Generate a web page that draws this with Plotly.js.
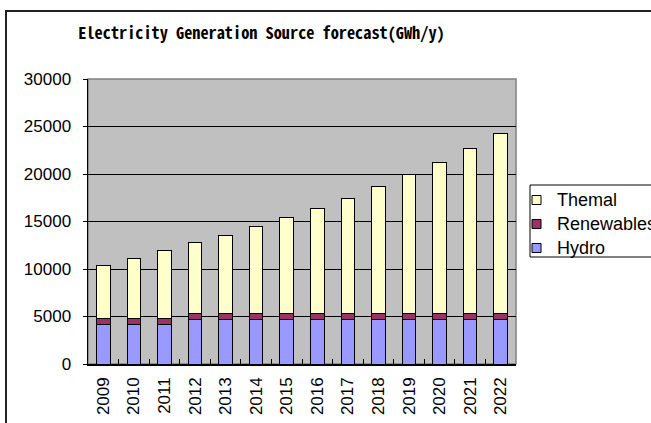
<!DOCTYPE html>
<html>
<head>
<meta charset="utf-8">
<script src="https://cdn.plot.ly/plotly-3.0.1.min.js"></script>
<style>
  html, body { margin: 0; padding: 0; background: #fff; overflow: hidden; }
  #chart { width: 651px; height: 423px; }
  #frame { position: absolute; left: 5px; top: 10px; width: 700px; height: 500px;
           border-left: 2px solid #222; border-top: 2px solid #222; pointer-events: none; }
</style>
</head>
<body>
<div id="chart"></div>
<div id="frame"></div>
<script>
const years = ["2009","2010","2011","2012","2013","2014","2015","2016","2017","2018","2019","2020","2021","2022"];
const hydro = [4200,4200,4200,4700,4700,4700,4700,4700,4700,4700,4700,4700,4700,4700];
const renewables = [550,550,550,650,650,650,650,650,650,650,650,650,650,650];
const thermal = [5600,6400,7150,7400,8200,9100,10050,11000,12100,13350,14550,15850,17300,18900];
const yTicks = [0,5000,10000,15000,20000,25000,30000];

const FONT = "Liberation Sans, Arial, sans-serif";
const line = {color: "#000", width: 1};
const traces = [
  {type: "bar", name: "Hydro", x: years, y: hydro, marker: {color: "#9999FF", line: line}},
  {type: "bar", name: "Renewables", x: years, y: renewables, marker: {color: "#993366", line: line}},
  {type: "bar", name: "Themal", x: years, y: thermal, marker: {color: "#FFFFCC", line: line}}
];

// plot area in pixels: x 88..516, y 79..364
const PL = 88, PW = 428, PB = 364, PH = 285;
const px = v => (v - PL) / PW;
const py = v => (PB - v) / PH;

const shapes = [
  {type: "rect", xref: "paper", yref: "paper", x0: 0, x1: 1, y0: 0, y1: 1,
   line: {color: "#808080", width: 1.5}, layer: "below"},
  {type: "rect", xref: "paper", yref: "paper", x0: px(530), x1: px(720), y0: py(257), y1: py(185),
   line: {color: "#000", width: 1}, fillcolor: "#fff"}
];
const annotations = [];
const legendRows = [200, 224, 248];
traces.slice().reverse().forEach((t, i) => {
  const cy = legendRows[i];
  shapes.push({type: "rect", xref: "paper", yref: "paper",
    x0: px(532), x1: px(541), y0: py(cy + 4.5), y1: py(cy - 4.5),
    line: {color: "#000", width: 1}, fillcolor: t.marker.color});
  annotations.push({xref: "paper", yref: "paper", x: px(555), y: py(cy),
    xanchor: "left", yanchor: "middle", showarrow: false, text: t.name,
    font: {family: FONT, size: 18, color: "#000"}});
});

const layout = {
  width: 651, height: 423,
  margin: {l: PL, r: 651 - PL - PW, t: 79, b: 423 - PB, pad: 0},
  paper_bgcolor: "#fff",
  plot_bgcolor: "#C0C0C0",
  barmode: "stack",
  bargap: 0.56,
  showlegend: false,
  title: {
    text: "Electricity Generation Source forecast(GWh/y)",
    font: {family: "Noto Sans Mono CJK JP, DejaVu Sans Mono, monospace", size: 16.3, color: "#000", weight: "bold"},
    x: 261.5/651, xref: "container", xanchor: "center",
    y: 1 - 33/423, yref: "container", yanchor: "middle"
  },
  xaxis: {
    type: "category",
    tickangle: -90,
    tickfont: {family: FONT, size: 17, color: "#000"},
    ticks: "inside", ticklen: 5, tickcolor: "#000", tickson: "boundaries",
    ticklabelstandoff: 5,
    showline: true, linecolor: "#000", linewidth: 1.5,
    showgrid: false,
    fixedrange: true
  },
  yaxis: {
    range: [0, 30000],
    tickvals: yTicks,
    ticktext: yTicks.map(String),
    tickfont: {family: FONT, size: 17, color: "#000"},
    ticks: "outside", ticklen: 4, tickcolor: "#000",
    ticklabelstandoff: 8,
    showline: true, linecolor: "#000", linewidth: 1.5,
    showgrid: true, gridcolor: "#000", gridwidth: 1,
    zeroline: false,
    fixedrange: true
  },
  shapes: shapes,
  annotations: annotations
};

Plotly.newPlot("chart", traces, layout, {displayModeBar: false, staticPlot: true});
</script>
</body>
</html>
